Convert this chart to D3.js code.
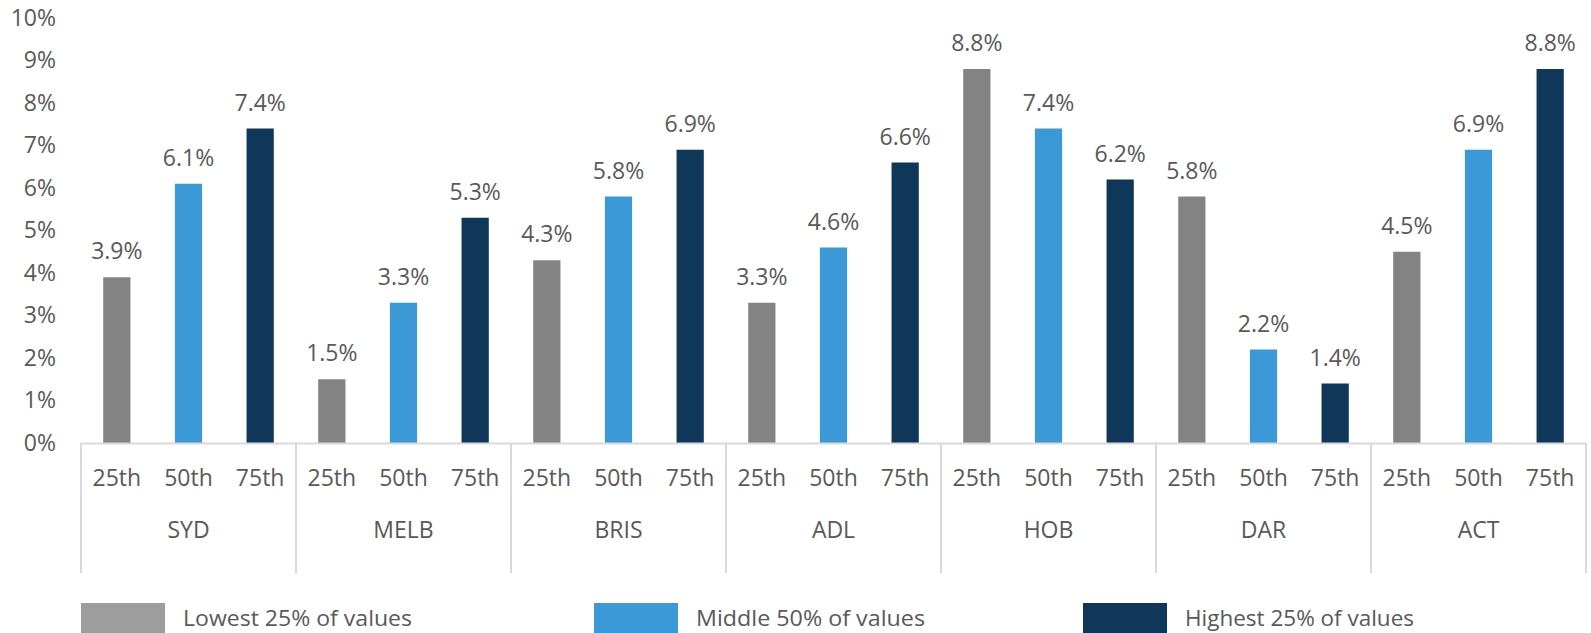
<!DOCTYPE html>
<html>
<head>
<meta charset="utf-8">
<script src="https://cdn.jsdelivr.net/npm/d3@7"></script>
<style>
  body { margin: 0; background: #fff; }
  svg text { font-family: "Open Sans", sans-serif; fill: #595959; }
</style>
</head>
<body>
<svg id="chart"></svg>
<script>
// Data
const cities = ['SYD', 'MELB', 'BRIS', 'ADL', 'HOB', 'DAR', 'ACT'];
const percentiles = ['25th', '50th', '75th'];
const lowest = [3.9, 1.5, 4.3, 3.3, 8.8, 5.8, 4.5];
const middle = [6.1, 3.3, 5.8, 4.6, 7.4, 2.2, 6.9];
const highest = [7.4, 5.3, 6.9, 6.6, 6.2, 1.4, 8.8];
const yTicks = [0, 1, 2, 3, 4, 5, 6, 7, 8, 9, 10];
const legendLabels = ['Lowest 25% of values', 'Middle 50% of values', 'Highest 25% of values'];

const config = {
  width: 1591,
  height: 633,
  margin: {top: 18, left: 81, right: 5},
  baseline: 443,
  barColors: ['#838383', '#3a99d6', '#0f3759'],
  legendColors: ['#9d9d9d', '#3a99d6', '#0f3759'],
  axisColor: '#d9d9d9'
};

const series = [lowest, middle, highest];
const rows = [];
cities.forEach((c, i) => {
  percentiles.forEach((p, j) => {
    rows.push({city: c, pct: p, idx: j, value: series[j][i]});
  });
});

const svg = d3.select('#chart')
    .attr('width', config.width)
    .attr('height', config.height);

// Scales
const xGroup = d3.scaleBand()
    .domain(cities)
    .range([config.margin.left, config.width - config.margin.right]);

const xInner = d3.scaleBand()
    .domain(percentiles)
    .range([0, xGroup.bandwidth()])
    .paddingInner(0.62)
    .paddingOuter(0.31);

const yScale = d3.scaleLinear()
    .domain([0, 10])
    .range([config.baseline, config.margin.top]);

// Y axis (labels only)
const yAxis = d3.axisLeft(yScale)
    .tickValues(yTicks)
    .tickSize(0)
    .tickPadding(0)
    .tickFormat(d => d + '%');

svg.append('g')
    .attr('transform', 'translate(56,0)')
    .call(yAxis)
    .call(g => g.select('.domain').remove())
    .selectAll('text')
    .attr('font-family', '"Open Sans", sans-serif')
    .style('font-size', '23px')
    .attr('fill', '#595959');

// Bars
svg.selectAll('.bar')
    .data(rows)
    .join('rect')
    .attr('class', 'bar')
    .attr('x', d => xGroup(d.city) + xInner(d.pct))
    .attr('width', xInner.bandwidth())
    .attr('y', d => yScale(d.value))
    .attr('height', d => yScale(0) - yScale(d.value))
    .attr('fill', d => config.barColors[d.idx]);

// Data labels
svg.selectAll('.label')
    .data(rows)
    .join('text')
    .attr('class', 'label')
    .attr('x', d => xGroup(d.city) + xInner(d.pct) + xInner.bandwidth() / 2)
    .attr('y', d => yScale(d.value) - 18)
    .attr('text-anchor', 'middle')
    .style('font-size', '23px')
    .text(d => d.value.toFixed(1) + '%');

// Category axis: baseline and separators
const axisG = svg.append('g');
axisG.append('line')
    .attr('x1', xGroup.range()[0])
    .attr('x2', xGroup.range()[1])
    .attr('y1', config.baseline + 0.5)
    .attr('y2', config.baseline + 0.5)
    .attr('stroke', config.axisColor)
    .attr('stroke-width', 2);

const sepX = cities.map(c => xGroup(c)).concat([xGroup.range()[1]]);
axisG.selectAll('.sep')
    .data(sepX)
    .join('line')
    .attr('class', 'sep')
    .attr('x1', d => d)
    .attr('x2', d => d)
    .attr('y1', config.baseline)
    .attr('y2', 573)
    .attr('stroke', config.axisColor)
    .attr('stroke-width', 2);

// Percentile labels
axisG.selectAll('.pct')
    .data(rows)
    .join('text')
    .attr('class', 'pct')
    .attr('x', d => xGroup(d.city) + xInner(d.pct) + xInner.bandwidth() / 2)
    .attr('y', 478)
    .attr('dy', '0.35em')
    .attr('text-anchor', 'middle')
    .style('font-size', '23px')
    .text(d => d.pct);

// City labels
axisG.selectAll('.city')
    .data(cities)
    .join('text')
    .attr('class', 'city')
    .attr('x', d => xGroup(d) + xGroup.bandwidth() / 2)
    .attr('y', 530)
    .attr('dy', '0.35em')
    .attr('text-anchor', 'middle')
    .style('font-size', '23px')
    .text(d => d);

// Legend
const legendX = [81, 594, 1083];
const legend = svg.selectAll('.legend')
    .data(legendLabels)
    .join('g')
    .attr('class', 'legend')
    .attr('transform', (d, i) => `translate(${legendX[i]},603)`);

legend.append('rect')
    .attr('width', 84)
    .attr('height', 32)
    .attr('fill', (d, i) => config.legendColors[i]);

legend.append('text')
    .attr('x', 102)
    .attr('y', 15)
    .attr('dy', '0.35em')
    .style('font-size', '22px')
    .attr('textLength', 229)
    .attr('lengthAdjust', 'spacingAndGlyphs')
    .text(d => d);
</script>
</body>
</html>
